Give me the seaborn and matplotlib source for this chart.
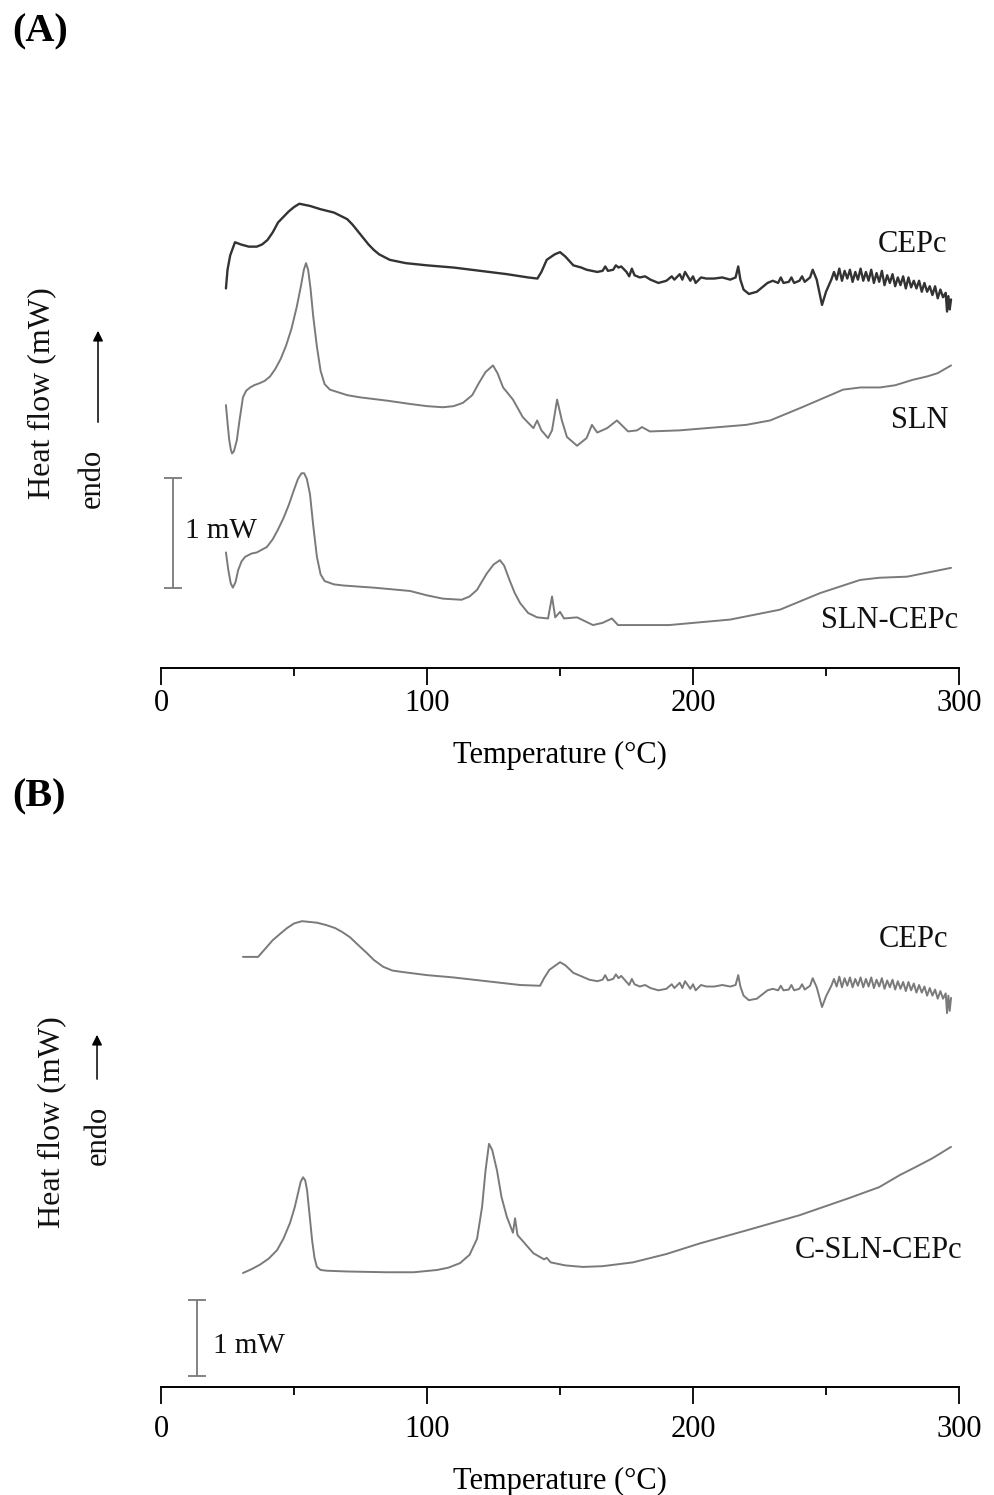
import numpy as np
import pandas as pd
import matplotlib
matplotlib.use("Agg")
import matplotlib.pyplot as plt
import seaborn as sns

# ---------------- data (temperature in °C, heat flow in mW, offset per curve) -------------
# Panel A
cepc_a_t = [24.4, 25.0, 26.0, 27.8, 30, 33, 36, 38, 40, 42, 44, 46, 48, 50, 52, 54, 56, 60, 65, 70,
            72, 74, 76, 78, 80, 82, 86, 92, 100, 110, 120, 130, 138, 141.5, 143, 145, 148, 150, 152,
            155, 158, 160, 164, 166, 167, 168, 170, 171, 172, 173, 175, 176, 177, 178, 180, 182, 184,
            187, 190, 192, 193, 195, 196, 197, 199, 200, 201, 203, 205, 208, 211, 214, 216, 217,
            217.8, 219, 221, 224, 228, 230, 232, 233, 234, 236, 237, 238, 240, 241, 242, 244, 245,
            246.5, 248.5, 250, 252,
            253, 254, 255, 256, 257, 258, 259, 260, 261, 262, 263, 264, 265, 266, 267, 268, 269, 270,
            271, 272, 273, 274, 275, 276, 277, 278, 279, 280, 281, 282, 283, 284, 285, 286, 287, 288,
            289, 290, 291, 292, 293, 294, 295, 295.5, 296, 296.5, 297]
cepc_a_v = [3.45, 3.62, 3.75, 3.87, 3.85, 3.83, 3.83, 3.85, 3.89, 3.96, 4.05, 4.10, 4.15, 4.19,
            4.22, 4.21, 4.20, 4.17, 4.14, 4.08, 4.03, 3.97, 3.91, 3.85, 3.80, 3.76, 3.71, 3.68, 3.66,
            3.64, 3.61, 3.58, 3.55, 3.54, 3.60, 3.71, 3.76, 3.78, 3.74, 3.66, 3.64, 3.62, 3.60, 3.61,
            3.65, 3.61, 3.62, 3.66, 3.64, 3.65, 3.60, 3.56, 3.63, 3.57, 3.55, 3.56, 3.53, 3.50, 3.52,
            3.56, 3.53, 3.58, 3.53, 3.60, 3.52, 3.56, 3.50, 3.55, 3.54, 3.54, 3.55, 3.53, 3.55, 3.65,
            3.53, 3.44, 3.40, 3.42, 3.50, 3.52, 3.50, 3.55, 3.50, 3.51, 3.55, 3.50, 3.52, 3.56, 3.51,
            3.55, 3.62, 3.53, 3.30, 3.42, 3.53,
            3.60, 3.53, 3.63, 3.52, 3.61, 3.54, 3.62, 3.51, 3.60, 3.53, 3.63, 3.52, 3.60, 3.52, 3.62,
            3.50, 3.59, 3.51, 3.61, 3.48, 3.57, 3.50, 3.58, 3.47, 3.55, 3.48, 3.56, 3.45, 3.55, 3.46,
            3.52, 3.45, 3.52, 3.42, 3.50, 3.42, 3.47, 3.39, 3.47, 3.36, 3.44, 3.37, 3.41, 3.24, 3.38,
            3.26, 3.35]

sln_a_t = [24.4, 25.0, 25.6, 26.2, 26.7, 27.4, 28.5, 29.5, 30.8, 32, 33.5, 35, 37.2, 39, 41, 43, 45,
           47, 49, 51, 52.5, 53.7, 54.5, 55.3, 56.2, 57.2, 58.6, 60, 61.5, 63.5, 70, 74.8, 85, 93.6,
           100, 106, 110, 113.5, 117, 119.5, 122, 124.8, 126.5, 128.6, 132.3, 136, 140, 141.4, 143,
           145.5, 147, 148.9, 150.7, 152.6, 156.4, 160, 162, 164, 167.7, 171.4, 175.6, 179, 180.8,
           183.8, 195, 210, 220, 229, 241, 256.4, 263, 270.3, 276, 282.7, 288, 292, 297]
sln_a_v = [2.39, 2.23, 2.08, 1.99, 1.95, 1.97, 2.07, 2.25, 2.46, 2.52, 2.55, 2.57, 2.59, 2.61, 2.65,
           2.72, 2.81, 2.93, 3.08, 3.28, 3.46, 3.62, 3.68, 3.62, 3.45, 3.20, 2.92, 2.70, 2.58, 2.53,
           2.48, 2.46, 2.43, 2.40, 2.38, 2.37, 2.38, 2.41, 2.48, 2.59, 2.69, 2.75, 2.68, 2.55, 2.44,
           2.28, 2.18, 2.25, 2.16, 2.09, 2.16, 2.44, 2.25, 2.10, 2.02, 2.09, 2.21, 2.14, 2.18, 2.25,
           2.15, 2.16, 2.19, 2.15, 2.16, 2.19, 2.21, 2.25, 2.37, 2.53, 2.55, 2.55, 2.57, 2.62, 2.65,
           2.68, 2.75]

slncepc_a_t = [24.4, 25.3, 26.2, 27, 28, 29, 30.3, 31.6, 34, 36, 39.8, 42, 44, 46, 48, 50, 51.5,
               52.8, 53.8, 54.8, 56, 57.2, 58.6, 60, 61.5, 65, 68.4, 80, 93.6, 100, 106, 113, 116,
               118.8, 120.5, 122.5, 125, 127.4, 129, 131, 133, 135, 138, 141.4, 145.5, 147, 148.2,
               150, 151.5, 156.4, 162.4, 166, 169.5, 171.8, 191, 214, 232.7, 247.7, 262.8, 270,
               280.5, 297]
slncepc_a_v = [1.05, 0.89, 0.77, 0.73, 0.78, 0.89, 0.97, 1.01, 1.04, 1.05, 1.10, 1.17, 1.26, 1.36,
               1.48, 1.62, 1.72, 1.77, 1.77, 1.72, 1.58, 1.30, 1.01, 0.85, 0.79, 0.76, 0.75, 0.73,
               0.70, 0.66, 0.63, 0.62, 0.65, 0.71, 0.78, 0.86, 0.94, 0.98, 0.93, 0.80, 0.68, 0.59,
               0.50, 0.46, 0.45, 0.65, 0.46, 0.51, 0.45, 0.46, 0.39, 0.41, 0.45, 0.39, 0.39, 0.44,
               0.53, 0.68, 0.80, 0.82, 0.83, 0.91]

# Panel B
cepc_b_t = [30.8, 36.5, 39, 42, 45, 47.4, 50, 53, 58.6, 62, 65.4, 68, 71, 74, 77.4, 80, 83.5, 87, 91,
            100, 109.8, 120, 135, 142.5, 144, 146, 150, 152,
            155, 161, 164, 166, 167, 168, 170, 171, 172, 173, 175, 176, 177, 178, 180, 182, 184, 187,
            190, 192, 193, 195, 196, 197, 199, 200, 201, 203, 205, 208, 211, 214, 216, 217, 217.8,
            219, 221, 224, 228, 230, 232, 233, 234, 236, 237, 238, 240, 241, 242, 244, 245, 246.5,
            248.5, 250, 252, 253, 254, 255, 256, 257, 258, 259, 260, 261, 262, 263, 264, 265, 266,
            267, 268, 269, 270, 271, 272, 273, 274, 275, 276, 277, 278, 279, 280, 281, 282, 283,
            284, 285, 286, 287, 288, 289, 290, 291, 292, 293, 294, 295, 295.5, 296, 296.5, 297]
cepc_b_v = [5.66, 5.66, 5.76, 5.88, 5.97, 6.04, 6.10, 6.13, 6.11, 6.08, 6.04, 5.99, 5.92, 5.82,
            5.71, 5.62, 5.53, 5.48, 5.46, 5.42, 5.39, 5.35, 5.29, 5.28, 5.38, 5.49, 5.59, 5.55,
            5.45, 5.36, 5.34, 5.36, 5.42, 5.35, 5.37, 5.43, 5.38, 5.41, 5.33, 5.29, 5.37, 5.30,
            5.27, 5.29, 5.25, 5.22, 5.24, 5.30, 5.25, 5.32, 5.25, 5.34, 5.24, 5.30, 5.22, 5.29, 5.27,
            5.27, 5.29, 5.27, 5.29, 5.42, 5.27, 5.15, 5.09, 5.11, 5.22, 5.24, 5.22, 5.28, 5.22, 5.23,
            5.29, 5.22, 5.24, 5.30, 5.23, 5.28, 5.38, 5.26, 5.00, 5.14, 5.28, 5.37, 5.27, 5.40, 5.26,
            5.38, 5.28, 5.39, 5.26, 5.37, 5.28, 5.39, 5.26, 5.37, 5.27, 5.39, 5.25, 5.36, 5.27, 5.38,
            5.24, 5.35, 5.26, 5.36, 5.23, 5.34, 5.24, 5.33, 5.21, 5.33, 5.22, 5.31, 5.19, 5.29, 5.19,
            5.27, 5.15, 5.25, 5.15, 5.23, 5.11, 5.21, 5.11, 5.18, 4.92, 5.15, 4.95, 5.12]

cslncepc_b_t = [30.8, 34, 37.2, 40.5, 43.6, 46, 48.5, 50.3, 51.5, 52.5, 53.4, 54.2, 54.9, 55.8, 56.8,
                57.7, 58.6, 60, 62.4, 70, 85, 95, 103.8, 108, 112.4, 116, 118.8, 120.7, 122, 123.3,
                124.5, 126.3, 128, 130, 132.3, 133.1, 134, 136, 140, 144, 145, 146.5, 152, 158.6,
                166, 177.4, 190, 202.6, 220, 240, 259, 270, 277.8, 284, 290, 297]
cslncepc_b_v = [1.50, 1.55, 1.61, 1.69, 1.80, 1.95, 2.16, 2.37, 2.55, 2.70, 2.76, 2.72, 2.59, 2.28,
                1.93, 1.70, 1.58, 1.54, 1.53, 1.52, 1.51, 1.51, 1.54, 1.57, 1.63, 1.74, 1.95, 2.37,
                2.85, 3.20, 3.12, 2.85, 2.50, 2.24, 2.03, 2.22, 2.00, 1.92, 1.76, 1.68, 1.70, 1.64,
                1.60, 1.58, 1.59, 1.64, 1.75, 1.89, 2.06, 2.26, 2.49, 2.63, 2.79, 2.90, 3.01, 3.16]

x_ticks = [0, 100, 200, 300]
x_minor = [50, 150, 250]
curve_labels_a = ["CEPc", "SLN", "SLN-CEPc"]
curve_labels_b = ["CEPc", "C-SLN-CEPc"]

# ---------------- styling ----------------
sns.set_theme(style="white")
plt.rcParams['font.family'] = ['Liberation Serif', 'DejaVu Serif']

DARK = "#333333"
GRAY = "#7a7a7a"

fig = plt.figure(figsize=(9.94, 14.95), dpi=100)
axA = fig.add_axes([0.162, 0.5532, 0.8028, 0.3465])
axB = fig.add_axes([0.162, 0.07224, 0.8028, 0.3458])


def style_axis(ax, ymax, pad, labelpad):
    ax.set_xlim(0, 300)
    ax.set_ylim(0, ymax)
    for s in ["left", "top", "right"]:
        ax.spines[s].set_visible(False)
    ax.spines["bottom"].set_color("black")
    ax.spines["bottom"].set_linewidth(1.4)
    ax.set_yticks([])
    ax.set_xticks(x_ticks)
    ax.set_xticks(x_minor, minor=True)
    ax.tick_params(axis="x", which="major", bottom=True, direction="out", length=12, width=1.3,
                   color="black", labelsize=22, pad=pad, labelcolor="black")
    ax.tick_params(axis="x", which="minor", bottom=True, direction="out", length=6, width=1.3,
                   color="black")
    ax.set_ylabel("")
    ax.set_xlabel("Temperature (°C)", fontsize=22, labelpad=labelpad, color="black")
    ax.patch.set_alpha(0)


# Panel A curves
sns.lineplot(x=cepc_a_t, y=cepc_a_v, ax=axA, color=DARK, linewidth=1.7, estimator=None, legend=False)
sns.lineplot(x=sln_a_t, y=sln_a_v, ax=axA, color=GRAY, linewidth=1.4, estimator=None, legend=False)
sns.lineplot(x=slncepc_a_t, y=slncepc_a_v, ax=axA, color=GRAY, linewidth=1.4, estimator=None, legend=False)
style_axis(axA, 4.709, 3, 17)

# Panel B curves
sns.lineplot(x=cepc_b_t, y=cepc_b_v, ax=axB, color=GRAY, linewidth=1.4, estimator=None, legend=False)
sns.lineplot(x=cslncepc_b_t, y=cslncepc_b_v, ax=axB, color=GRAY, linewidth=1.4, estimator=None, legend=False)
style_axis(axB, 6.803, 8, 17)

# Curve labels
lab_kw = dict(ha="right", va="baseline", fontsize=22, color="#111111")
axA.text(295.5, 3.78, curve_labels_a[0], **lab_kw)
axA.text(295.9, 2.18, curve_labels_a[1], **lab_kw)
axA.text(299.6, 0.36, curve_labels_a[2], **lab_kw)
axB.text(295.9, 5.79, curve_labels_b[0], **lab_kw)
axB.text(301.1, 1.70, curve_labels_b[1], **lab_kw)

# Scale bars (1 mW)
axA.errorbar(4.5, 1.23, yerr=0.5, fmt="none", ecolor=GRAY, elinewidth=1.3, capsize=6.5,
             capthick=1.3, clip_on=False)
axA.text(9.0, 1.18, "1 mW", ha="left", va="baseline", fontsize=21, color="#111111")
axB.errorbar(13.5, 0.645, yerr=0.5, fmt="none", ecolor=GRAY, elinewidth=1.3, capsize=6.5,
             capthick=1.3, clip_on=False)
axB.text(19.5, 0.45, "1 mW", ha="left", va="baseline", fontsize=21, color="#111111")

# Y-axis labels with endo arrows
fig.text(0.0423, 0.7371, "Heat flow (mW)", rotation=90, ha="center", va="center", fontsize=23,
         color="#111111")
fig.text(0.0926, 0.6803, "endo", rotation=90, ha="center", va="center", fontsize=22, color="#111111")
fig.add_artist(matplotlib.patches.FancyArrowPatch((0.0986, 0.7157), (0.0986, 0.7806),
               transform=fig.transFigure, arrowstyle="-|>,head_length=6,head_width=3",
               color="black", linewidth=1.1, mutation_scale=1))

fig.text(0.0523, 0.2495, "Heat flow (mW)", rotation=90, ha="center", va="center", fontsize=23,
         color="#111111")
fig.text(0.0986, 0.2408, "endo", rotation=90, ha="center", va="center", fontsize=22, color="#111111")
fig.add_artist(matplotlib.patches.FancyArrowPatch((0.0976, 0.2763), (0.0976, 0.3097),
               transform=fig.transFigure, arrowstyle="-|>,head_length=6,head_width=3",
               color="black", linewidth=1.1, mutation_scale=1))

# Panel letters
fig.text(0.012, 0.9913, "(A)", ha="left", va="top", fontsize=29, fontweight="bold", color="black")
fig.text(0.012, 0.4796, "(B)", ha="left", va="top", fontsize=29, fontweight="bold", color="black")

fig.savefig("out.png", dpi=100, facecolor="white")
